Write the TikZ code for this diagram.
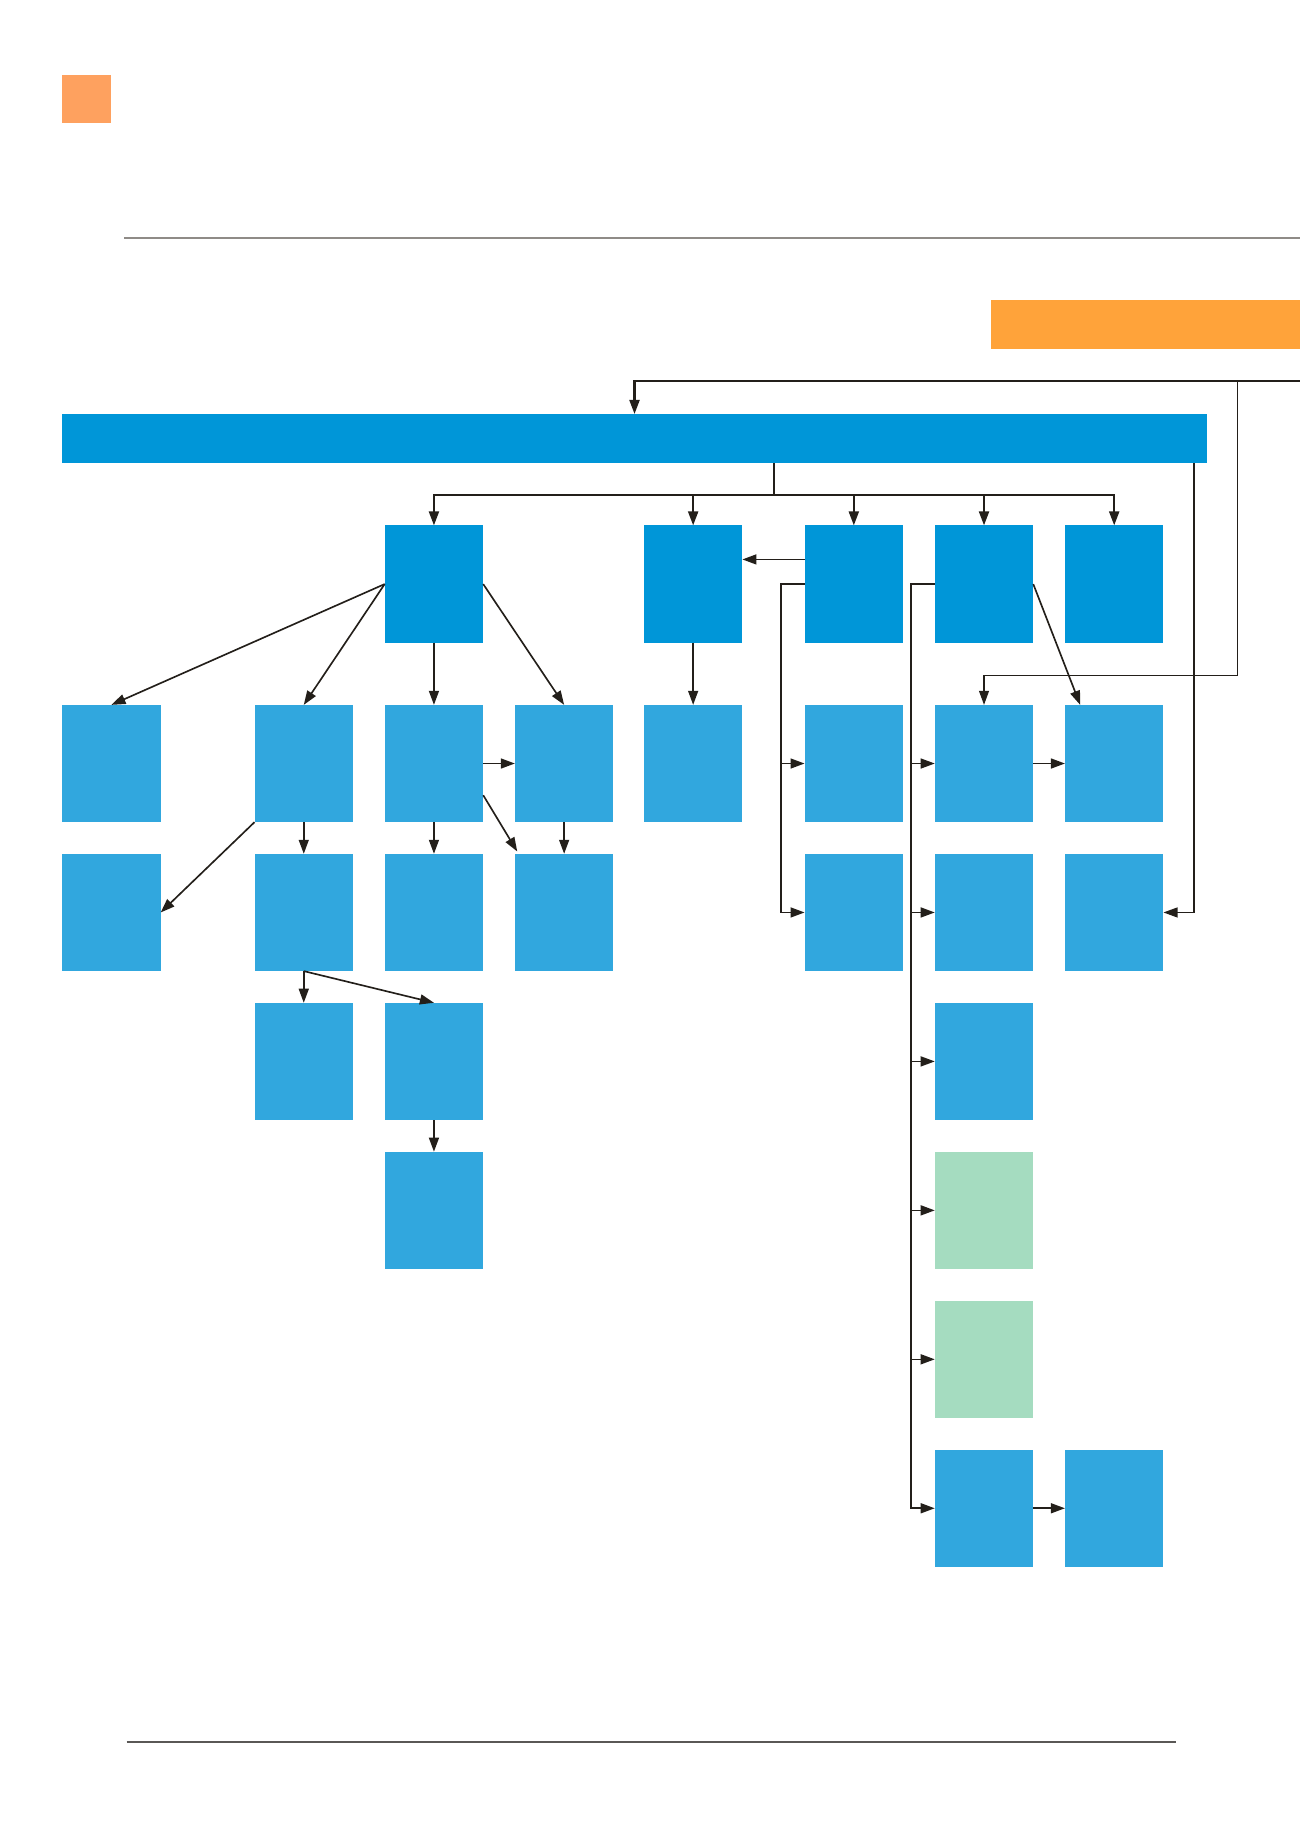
\documentclass[tikz,border=0pt]{standalone}
\usetikzlibrary{positioning,arrows.meta}

\definecolor{hubblue}{HTML}{0096D8}
\definecolor{leafblue}{HTML}{31A7DE}
\definecolor{leafgreen}{HTML}{A5DCC0}
\definecolor{barorange}{HTML}{FFA33A}
\definecolor{tagorange}{HTML}{FEA15F}
\definecolor{wirecol}{HTML}{231F1A}
\definecolor{rulegray}{HTML}{8F8B87}
\definecolor{footgray}{HTML}{5A5856}

\begin{document}
\begin{tikzpicture}[
    >={Triangle[length=0.24cm,width=0.17cm]},
    node distance=0.54cm and 0.54cm,
    box/.style={inner sep=0pt, outer sep=0pt, minimum width=1.68cm, minimum height=2cm},
    hub/.style={box, fill=hubblue},
    leaf/.style={box, fill=leafblue},
    note/.style={box, fill=leafgreen},
    band/.style={inner sep=0pt, outer sep=0pt, minimum height=0.84cm, anchor=north west},
    arrow/.style={->, draw=wirecol, line width=0.8pt},
    thinarrow/.style={->, draw=wirecol, line width=0.6pt},
    wire/.style={draw=wirecol, line width=1.1pt},
]
\useasboundingbox (0,0) rectangle (22.16,-31.36);

% === Header ===
\node[band, fill=tagorange, minimum width=0.84cm, minimum height=0.82cm] (tag) at (1.06,-1.28) {};
\draw[rulegray, line width=0.9pt] (2.12,-4.06) -- (22.16,-4.06);
\node[band, fill=barorange, minimum width=5.26cm] (flag) at (16.9,-5.12) {};

% === Main bar ===
\node[band, fill=hubblue, minimum width=19.52cm] (bar) at (1.06,-7.06) {};

% === Row 1 ===
\node[hub] (r1c3) at (7.4,-9.96) {};
\node[hub] (r1c5) at (11.82,-9.96) {};
\node[hub, right=1.06cm of r1c5] (r1c6) {};
\node[hub, right=of r1c6] (r1c7) {};
\node[hub, right=of r1c7] (r1c8) {};

% === Row 2 ===
\node[leaf, below=1.06cm of r1c3] (r2c3) {};
\node[leaf, left=of r2c3] (r2c2) {};
\node[leaf, left=1.6cm of r2c2] (r2c1) {};
\node[leaf, right=of r2c3] (r2c4) {};
\node[leaf, below=1.06cm of r1c5] (r2c5) {};
\node[leaf, below=1.06cm of r1c6] (r2c6) {};
\node[leaf, below=1.06cm of r1c7] (r2c7) {};
\node[leaf, below=1.06cm of r1c8] (r2c8) {};

% === Row 3 ===
\node[leaf, below=of r2c1] (r3c1) {};
\node[leaf, below=of r2c2] (r3c2) {};
\node[leaf, below=of r2c3] (r3c3) {};
\node[leaf, below=of r2c4] (r3c4) {};
\node[leaf, below=of r2c6] (r3c6) {};
\node[leaf, below=of r2c7] (r3c7) {};
\node[leaf, below=of r2c8] (r3c8) {};

% === Rows 4-7 ===
\node[leaf, below=of r3c2] (r4c2) {};
\node[leaf, below=of r3c3] (r4c3) {};
\node[leaf, below=of r4c3] (r5c3) {};
\node[leaf, below=of r3c7] (r4c7) {};
\node[note, below=of r4c7] (r5c7) {};
\node[note, below=of r5c7] (r6c7) {};
\node[leaf, below=of r6c7] (r7c7) {};
\node[leaf, right=of r7c7] (r7c8) {};

% === Footer ===
\draw[footgray, line width=0.8pt] (2.16,-29.7) -- (20.06,-29.7);

% === Feed from the right ===
\coordinate (feed) at (22.16,-6.5);
\coordinate (tap) at (21.1,-6.5);
\draw[->, wire] (feed) -| (bar.north);
\draw[thinarrow] (tap) -- ++(0,-5.02) -| (r2c7.north);
\draw[thinarrow] ([xshift=-0.22cm]bar.south east) |- (r3c8.east);

% === Bar -> row 1 ===
\coordinate (split) at (13.2,-8.44);
\draw[draw=wirecol, line width=0.6pt] (bar.south -| split) -- (split);
\draw[->, wire] (split) -| (r1c3.north);
\draw[->, wire] (split) -| (r1c5.north);
\draw[->, wire] (split) -| (r1c6.north);
\draw[->, wire] (split) -| (r1c7.north);
\draw[->, wire] (split) -| (r1c8.north);

% === Left tree ===
\draw[arrow] (r1c3.west) -- (r2c1.north);
\draw[arrow] (r1c3.west) -- (r2c2.north);
\draw[arrow] (r1c3.south) -- (r2c3.north);
\draw[arrow] (r1c3.east) -- (r2c4.north);
\draw[arrow] (r2c3.east) -- (r2c4.west);
\draw[arrow] ([yshift=-0.54cm]r2c3.east) -- ([xshift=0.04cm,yshift=0.04cm]r3c4.north west);
\draw[arrow] (r2c2.south west) -- (r3c1.east);
\draw[arrow] (r2c2.south) -- (r3c2.north);
\draw[arrow] (r2c3.south) -- (r3c3.north);
\draw[arrow] (r2c4.south) -- (r3c4.north);
\draw[arrow] (r3c2.south) -- (r4c2.north);
\draw[arrow] (r3c2.south) -- (r4c3.north);
\draw[arrow] (r4c3.south) -- (r5c3.north);

% === Middle ===
\draw[arrow] (r1c5.south) -- (r2c5.north);
\draw[arrow] ([yshift=0.42cm]r1c6.west) -- ([yshift=0.42cm]r1c5.east);
\draw[arrow] (r1c6.west) -- ++(-0.4,0) |- (r2c6.west);
\draw[arrow] (r1c6.west) -- ++(-0.4,0) |- (r3c6.west);

% === Right trunk ===
\draw[arrow] (r1c7.west) -- ++(-0.4,0) |- (r2c7.west);
\draw[arrow] (r1c7.west) -- ++(-0.4,0) |- (r3c7.west);
\draw[arrow] (r1c7.west) -- ++(-0.4,0) |- (r4c7.west);
\draw[arrow] (r1c7.west) -- ++(-0.4,0) |- (r5c7.west);
\draw[arrow] (r1c7.west) -- ++(-0.4,0) |- (r6c7.west);
\draw[arrow] (r1c7.west) -- ++(-0.4,0) |- (r7c7.west);
\draw[arrow] (r1c7.east) -- ([xshift=0.26cm]r2c8.north west);
\draw[arrow] (r2c7.east) -- (r2c8.west);
\draw[arrow] (r7c7.east) -- (r7c8.west);

\end{tikzpicture}
\end{document}
